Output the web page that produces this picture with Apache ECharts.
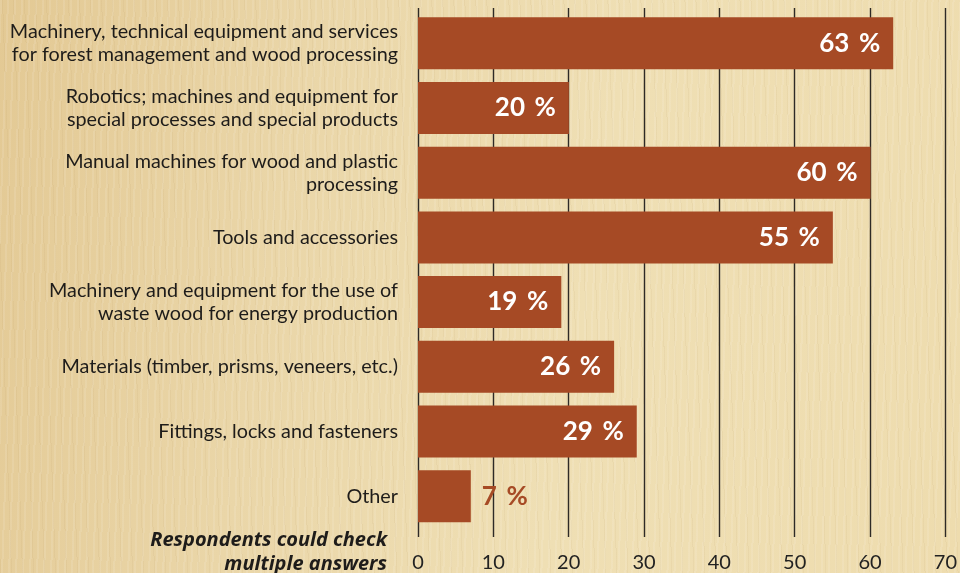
<!DOCTYPE html>
<html>
<head>
<meta charset="utf-8">
<script src="https://cdn.jsdelivr.net/npm/echarts@6/dist/echarts.min.js"></script>
<style>
  html, body { margin: 0; padding: 0; }
  #chart {
    width: 960px; height: 573px;
    background:
      repeating-linear-gradient(92deg, rgba(255,255,255,0.10) 0px, rgba(255,255,255,0.10) 2px, rgba(0,0,0,0) 2px, rgba(0,0,0,0) 7px),
      repeating-linear-gradient(88deg, rgba(150,110,50,0.06) 0px, rgba(150,110,50,0.06) 1px, rgba(0,0,0,0) 1px, rgba(0,0,0,0) 11px),
      linear-gradient(100deg, #e3c994 0%, #ead6a8 30%, #efdfb4 60%, #eedcae 100%);
  }
</style>
</head>
<body>
<div id="chart"></div>
<script>
// categories top to bottom
var categories = [
  'Machinery, technical equipment and services\nfor forest management and wood processing',
  'Robotics; machines and equipment for\nspecial processes and special products',
  'Manual machines for wood and plastic\nprocessing',
  'Tools and accessories',
  'Machinery and equipment for the use of\nwaste wood for energy production',
  'Materials (timber, prisms, veneers, etc.)',
  'Fittings, locks and fasteners',
  'Other'
]
// share of respondents, %
var values = [63, 20, 60, 55, 19, 26, 29, 7]
var xTicks = [0, 10, 20, 30, 40, 50, 60, 70]

var font = 'Lato'
var barColor = '#a64a25'

var barData = values.map(function (v) {
  if (v < 10) {
    // short bar: label sits outside
    return { value: v, label: { position: 'right', distance: 11, color: barColor } }
  }
  return v
})

var myChart = echarts.init(document.getElementById('chart'))
myChart.setOption({
  animation: false,
  grid: [
    { left: 418, right: 14, top: 8, bottom: 36 },     // grid lines + ticks
    { left: 418, right: 14, top: 11, bottom: 44.5 }   // bars
  ],
  xAxis: [
    {
      gridIndex: 0, type: 'value', min: xTicks[0], max: xTicks[xTicks.length - 1], interval: 10,
      axisLine: { show: false }, axisTick: { show: false },
      splitLine: { show: true, lineStyle: { color: '#2e2a26', width: 1.4 } },
      axisLabel: { margin: 16, fontFamily: font, fontSize: 20, color: '#222' }
    },
    {
      gridIndex: 1, type: 'value', min: 0, max: 70, show: false,
      splitLine: { show: false }
    }
  ],
  yAxis: [
    { gridIndex: 0, type: 'value', show: false, splitLine: { show: false } },
    {
      gridIndex: 1, type: 'category', inverse: true, data: categories,
      axisLine: { show: false }, axisTick: { show: false }, splitLine: { show: false },
      axisLabel: { margin: 20, fontFamily: font, fontSize: 19.8, lineHeight: 23, color: '#1e1c1a', align: 'right' }
    }
  ],
  series: [{
    type: 'bar',
    xAxisIndex: 1,
    yAxisIndex: 1,
    barWidth: 52,
    itemStyle: { color: barColor },
    label: {
      show: true,
      position: 'insideRight',
      distance: 13,
      color: '#fff',
      fontFamily: font,
      fontWeight: 'bold',
      fontSize: 26,
      formatter: '{c}\u2009 %'
    },
    data: barData
  }],
  graphic: [{
    type: 'text',
    right: 573,
    top: 528,
    style: {
      text: 'Respondents could check\nmultiple answers',
      font: 'italic bold 20px "Open Sans"',
      fill: '#1e1c1a',
      textAlign: 'right',
      lineHeight: 24
    }
  }]
})
</script>
</body>
</html>
